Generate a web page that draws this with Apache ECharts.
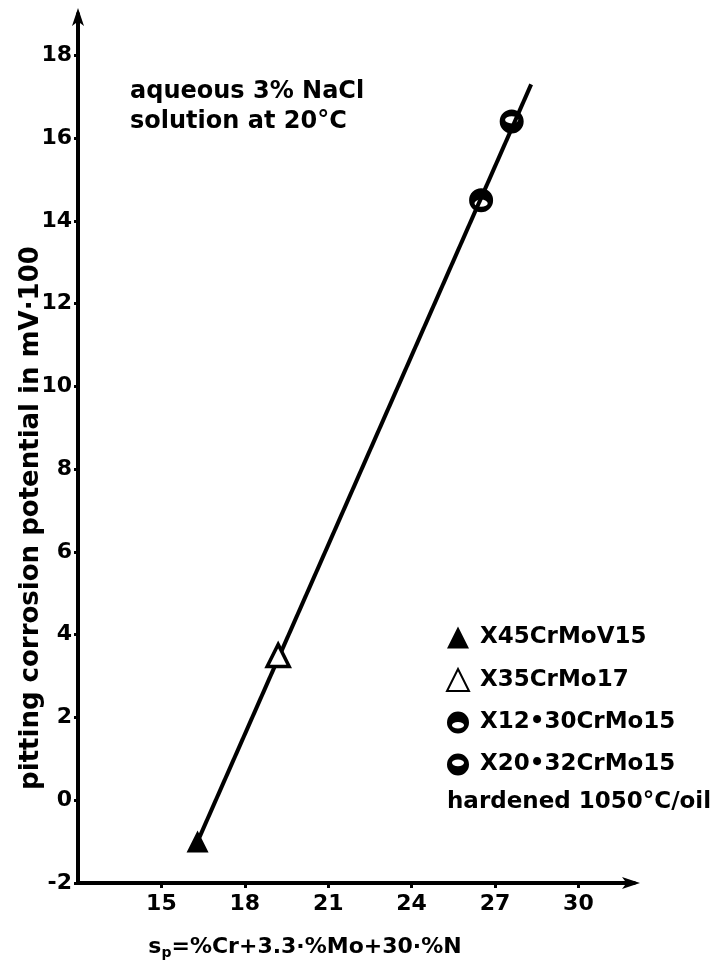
<!DOCTYPE html>
<html>
<head>
<meta charset="utf-8">
<script src="https://cdn.jsdelivr.net/npm/echarts@6/dist/echarts.min.js"></script>
<style>
html, body { margin: 0; padding: 0; background: #fff; }
#main { width: 712px; height: 965px; }
</style>
</head>
<body>
<div id="main"></div>
<script>
// steels, measured points
var steelNames = ['X45CrMoV15', 'X35CrMo17', 'X12•30CrMo15', 'X20•32CrMo15'];
var steelSp = [16.3, 19.2, 26.5, 27.6];
var steelPotential = [-1.0, 3.5, 14.5, 16.4];

// fitted line ends
var fitSp = [16.3, 28.3];
var fitPotential = [-1.0, 17.3];

var xTickLabels = [15, 18, 21, 24, 27, 30];
var yTickLabels = [-2, 0, 2, 4, 6, 8, 10, 12, 14, 16, 18];

var FONT = 'DejaVu Sans';

var holeLow = 'path://M10,0A10,10,0,1,1,10,20A10,10,0,1,1,10,0ZM4.5,12.5A5.5,3,0,1,0,15.5,12.5A5.5,3,0,1,0,4.5,12.5Z';
var holeHigh = 'path://M10,0A10,10,0,1,1,10,20A10,10,0,1,1,10,0ZM4.5,8.5A5.5,3,0,1,0,15.5,8.5A5.5,3,0,1,0,4.5,8.5Z';

var symbols = ['triangle', 'triangle', holeLow, holeHigh];
var fills = ['#000', '#fff', '#000', '#000'];

var chart = echarts.init(document.getElementById('main'));

var series = [{
    name: 'fit',
    type: 'line',
    data: fitSp.map(function (x, i) { return [x, fitPotential[i]]; }),
    symbol: 'none',
    lineStyle: { color: '#000', width: 4 },
    z: 1,
    silent: true
}];

steelNames.forEach(function (n, i) {
    series.push({
        name: n,
        type: 'scatter',
        data: [[steelSp[i], steelPotential[i]]],
        symbol: symbols[i],
        symbolSize: i < 2 ? 22 : 24,
        itemStyle: {
            color: fills[i],
            borderColor: '#000',
            borderWidth: i == 1 ? 3.5 : 0,
            opacity: 1
        },
        z: 3
    });
});

var option = {
    animation: false,
    backgroundColor: '#fff',
    textStyle: { fontFamily: FONT },
    grid: { left: 78, right: 78, top: 14, bottom: 82, containLabel: false },
    xAxis: {
        type: 'value',
        min: 12, max: 32, interval: 3,
        axisLine: { onZero: false, lineStyle: { color: '#000', width: 4 }, symbol: ['none', 'arrow'], symbolSize: [9, 18], symbolOffset: [0, 6] },
        axisTick: { length: 5, inside: false, lineStyle: { color: '#000', width: 3 } },
        axisLabel: {
            color: '#000', fontSize: 22, fontWeight: 'bold', fontFamily: FONT, margin: 10,
            showMaxLabel: false, showMinLabel: false,
            formatter: function (v) { return xTickLabels.indexOf(v) >= 0 ? String(v) : ''; }
        },
        splitLine: { show: false }
    },
    yAxis: {
        type: 'value',
        min: -2, max: 19, interval: 2,
        axisLine: { onZero: false, lineStyle: { color: '#000', width: 4 }, symbol: ['none', 'arrow'], symbolSize: [9, 18], symbolOffset: [0, 6] },
        axisTick: { length: 4, lineStyle: { color: '#000', width: 3 } },
        axisLabel: {
            color: '#000', fontSize: 22, fontWeight: 'bold', fontFamily: FONT, margin: 6,
            showMaxLabel: false,
            formatter: function (v) { return yTickLabels.indexOf(v) >= 0 ? String(v) : ''; }
        },
        splitLine: { show: false }
    },
    legend: {
        data: steelNames,
        orient: 'vertical',
        left: 441,
        top: 621,
        itemWidth: 22,
        itemHeight: 22,
        itemGap: 19,
        textStyle: { color: '#000', fontSize: 23, fontWeight: 'bold', fontFamily: FONT, padding: [0, 0, 0, 6] },
        selectedMode: false
    },
    graphic: [
        {
            type: 'text', left: 130, top: 77,
            style: { text: 'aqueous 3% NaCl\nsolution at 20°C', fill: '#000', font: 'bold 24px ' + FONT, lineHeight: 30 }
        },
        {
            type: 'text', left: 447, top: 791,
            style: { text: 'hardened 1050°C/oil', fill: '#000', font: 'bold 23px ' + FONT }
        },
        {
            type: 'text', x: 31, y: 518, rotation: Math.PI / 2,
            style: { text: 'pitting corrosion potential in mV·100', fill: '#000', font: 'bold 26px ' + FONT, align: 'center', verticalAlign: 'middle' }
        },
        {
            type: 'text', x: 305, y: 947,
            style: {
                text: '{s|s}{p|p}{t|=%Cr+3.3·%Mo+30·%N}',
                align: 'center', verticalAlign: 'middle',
                rich: {
                    s: { fill: '#000', font: 'bold 22px ' + FONT },
                    p: { fill: '#000', font: 'bold 14px ' + FONT, padding: [12, 0, 0, 0] },
                    t: { fill: '#000', font: 'bold 22px ' + FONT }
                }
            }
        }
    ],
    series: series
};

chart.setOption(option);
</script>
</body>
</html>
